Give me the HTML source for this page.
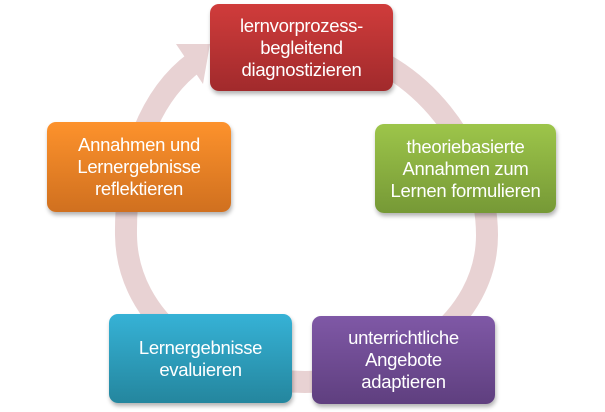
<!DOCTYPE html>
<html><head><style>
body{margin:0;width:605px;height:412px;background:#fff;position:relative;overflow:hidden;font-family:"Liberation Sans Narrow","Liberation Sans",sans-serif;}
.b{position:absolute;border-radius:9px;color:#fff;display:flex;align-items:center;justify-content:center;text-align:center;font-size:18.5px;line-height:22px;letter-spacing:-0.3px;box-shadow:1px 3px 4px rgba(0,0,0,0.3);}
</style></head><body>
<svg width="605" height="412" style="position:absolute;left:0;top:0">
<path d="M 195,62 C 150,95 125,160 126,235 C 127,320 210,382 305,382 C 400,382 487,320 487,235 C 487,150 420,60 330,45" fill="none" stroke="#e8d2d3" stroke-width="22"/>
<polygon points="176,44 203,84 210,44" fill="#e8d2d3"/>
</svg>
<div class="b" style="left:210px;top:4px;width:183px;height:87px;background:linear-gradient(#d03c3b,#a12a2c)">lernvorprozess-<br>begleitend<br>diagnostizieren</div>
<div class="b" style="left:375px;top:124px;width:181px;height:89px;background:linear-gradient(#9dc54a,#769936)">theoriebasierte<br>Annahmen zum<br>Lernen formulieren</div>
<div class="b" style="left:312px;top:316px;width:183px;height:88px;background:linear-gradient(#7f58a6,#5f3f7f)">unterrichtliche<br>Angebote<br>adaptieren</div>
<div class="b" style="left:109px;top:314px;width:183px;height:89px;background:linear-gradient(#36b2d6,#24869e)">Lernergebnisse<br>evaluieren</div>
<div class="b" style="left:47px;top:122px;width:184px;height:90px;background:linear-gradient(#fd922c,#d0701f)">Annahmen und<br>Lernergebnisse<br>reflektieren</div>
</body></html>
